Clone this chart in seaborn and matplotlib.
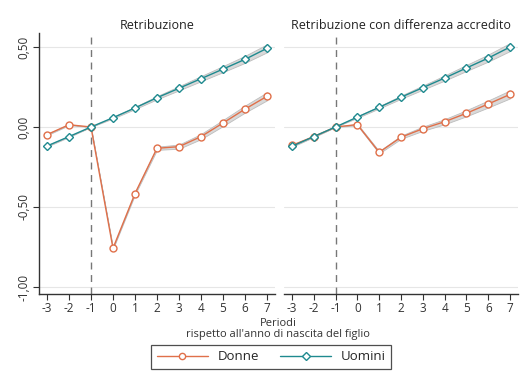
import numpy as np
import pandas as pd
import matplotlib
matplotlib.use("Agg")
import matplotlib.pyplot as plt
import seaborn as sns
from matplotlib.lines import Line2D

periodi = [-3, -2, -1, 0, 1, 2, 3, 4, 5, 6, 7]

# Panel 1: Retribuzione
donne_retr = [-0.048, 0.014, 0.0, -0.758, -0.416, -0.133, -0.123, -0.060, 0.025, 0.112, 0.192]
uomini_retr = [-0.119, -0.060, 0.0, 0.058, 0.119, 0.183, 0.242, 0.302, 0.362, 0.423, 0.492]
# Panel 2: Retribuzione con differenza accredito
donne_acc = [-0.115, -0.060, 0.0, 0.015, -0.158, -0.064, -0.011, 0.033, 0.086, 0.144, 0.204]
uomini_acc = [-0.121, -0.060, 0.0, 0.062, 0.123, 0.186, 0.246, 0.306, 0.369, 0.431, 0.500]
# half-width of confidence band
ci_half = [0.004, 0.003, 0.0, 0.005, 0.007, 0.010, 0.013, 0.016, 0.019, 0.022, 0.025]

titles = ["Retribuzione", "Retribuzione con differenza accredito"]
yticks = [-1.0, -0.5, 0.0, 0.5]
ytick_labels = ["-1,00", "-0,50", "0,00", "0,50"]

c_donne = "#E0704A"
c_uomini = "#1F8A8F"

sns.set_theme(style="white")
plt.rcParams["font.family"] = ["Open Sans", "DejaVu Sans"]

fig = plt.figure(figsize=(5.32, 3.84), dpi=100)
ax1 = fig.add_axes([39/532, 1-294/384, 236/532, 261/384])
ax2 = fig.add_axes([284/532, 1-294/384, 234/532, 261/384])

panels = [(ax1, donne_retr, uomini_retr), (ax2, donne_acc, uomini_acc)]
for i, (ax, dv, uv) in enumerate(panels):
    df = pd.DataFrame({"periodo": periodi * 2,
                       "valore": dv + uv,
                       "genere": ["Donne"] * len(periodi) + ["Uomini"] * len(periodi)})
    for y in yticks:
        ax.axhline(y, color="#e6e6e6", lw=0.8, zorder=0)
    ax.axvline(-1, color="#777777", lw=1.0, ls=(0, (5, 4)), zorder=1)
    for g, vals, col, mk, ms in [("Donne", dv, c_donne, "o", 5.0), ("Uomini", uv, c_uomini, "D", 4.5)]:
        v = np.array(vals)
        h = np.array(ci_half)
        ax.fill_between(periodi, v - h, v + h, facecolor="#d9d9d9", edgecolor="#bdbdbd",
                        lw=0.6, zorder=2)
        sns.lineplot(data=df[df.genere == g], x="periodo", y="valore", ax=ax, color=col,
                     lw=1.0, marker=mk, markersize=ms, markerfacecolor="white",
                     markeredgecolor=col, markeredgewidth=1.0, zorder=3, legend=False)
    ax.set_xlim(-3.36, 7.36)
    ax.set_ylim(-1.044, 0.5875)
    ax.set_xticks(periodi)
    ax.set_xticklabels([str(p) for p in periodi], fontsize=8.5, color="#333333")
    ax.set_xlabel("")
    ax.set_ylabel("")
    ax.set_title(titles[i], fontsize=9, color="#222222", pad=3)
    ax.tick_params(axis="x", direction="out", length=4, width=0.8, color="#333333", bottom=True, pad=2)
    for s in ["top", "right"]:
        ax.spines[s].set_visible(False)
    ax.spines["bottom"].set_color("#333333")
    ax.spines["bottom"].set_linewidth(1.0)
    if i == 0:
        ax.set_yticks(yticks)
        ax.set_yticklabels(ytick_labels, rotation=90, va="center", fontsize=8.5, color="#333333")
        ax.tick_params(axis="y", direction="out", length=4, width=0.8, color="#333333", left=True, pad=2)
        ax.spines["left"].set_color("#333333")
        ax.spines["left"].set_linewidth(1.0)
    else:
        ax.set_yticks(yticks)
        ax.set_yticklabels([])
        ax.tick_params(axis="y", left=False)
        ax.spines["left"].set_visible(False)

fig.text(278/532, 1-318/384, "Periodi\nrispetto all'anno di nascita del figlio",
         ha="center", va="top", fontsize=8, color="#333333", linespacing=1.05)

handles = [Line2D([], [], color=c_donne, lw=1.0, marker="o", markersize=4.5, mfc="white", mec=c_donne),
           Line2D([], [], color=c_uomini, lw=1.0, marker="D", markersize=4.0, mfc="white", mec=c_uomini)]
leg = fig.legend(handles, ["Donne", "Uomini"], loc="center", bbox_to_anchor=(271/532, 1-357/384),
                 ncol=2, frameon=True, fancybox=False, fontsize=9.5, handlelength=3.9,
                 columnspacing=1.6, handletextpad=0.7, borderpad=0.45, borderaxespad=0)
leg.get_frame().set_edgecolor("#222222")
leg.get_frame().set_linewidth(0.9)

fig.savefig("out.png", dpi=100)
